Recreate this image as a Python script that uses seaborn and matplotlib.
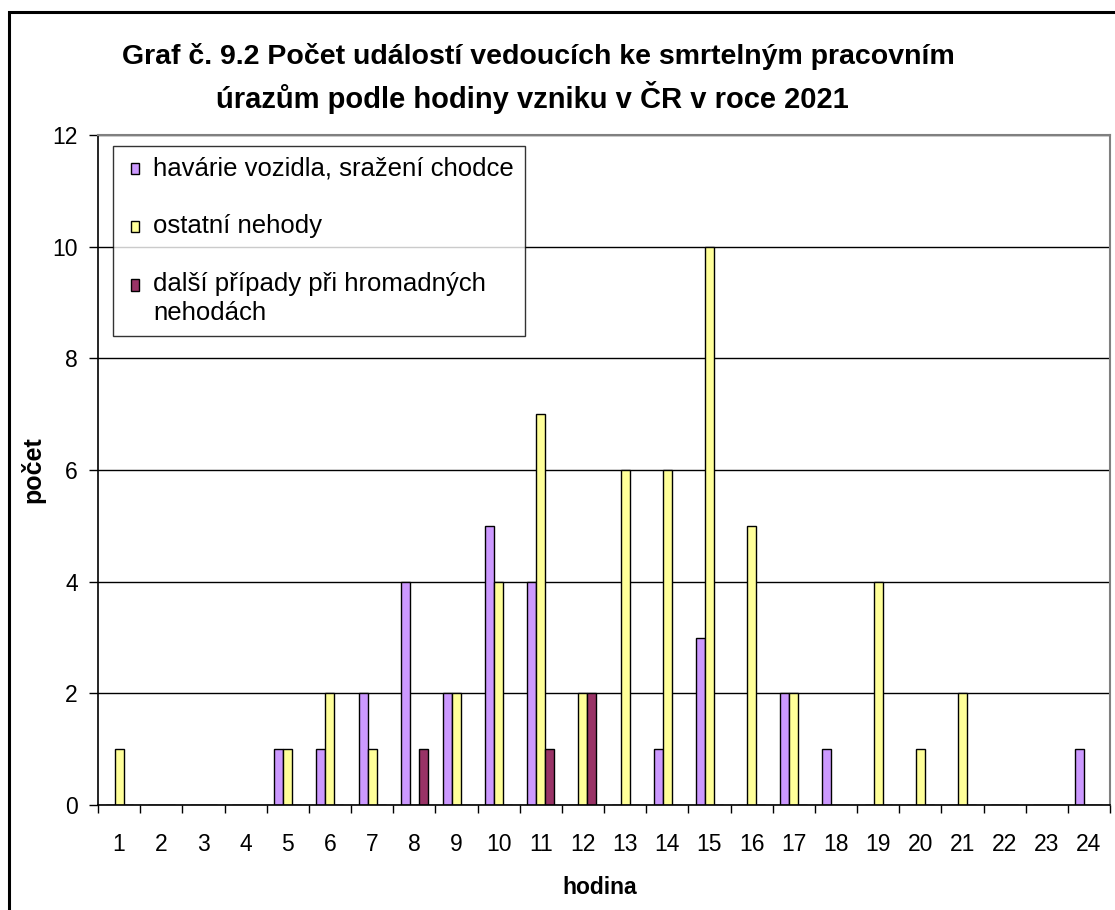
import numpy as np
import pandas as pd
import matplotlib
matplotlib.use("Agg")
import matplotlib.pyplot as plt
from matplotlib.patches import Patch, Rectangle
from matplotlib.ticker import FixedLocator
import seaborn as sns

# ========== DATA ==========
hours = list(range(1, 25))
havarie = [0, 0, 0, 0, 1, 1, 2, 4, 2, 5, 4, 0, 0, 1, 3, 0, 2, 1, 0, 0, 0, 0, 0, 1]
ostatni = [1, 0, 0, 0, 1, 2, 1, 0, 2, 4, 7, 2, 6, 6, 10, 5, 2, 0, 4, 1, 2, 0, 0, 0]
dalsi = [0, 0, 0, 0, 0, 0, 0, 1, 0, 0, 1, 2, 0, 0, 0, 0, 0, 0, 0, 0, 0, 0, 0, 0]

series_names = ["havárie vozidla, sražení chodce", "ostatní nehody",
                "další případy při hromadných\nnehodách"]
series_colors = ["#CC99FF", "#FFFF99", "#993366"]
y_ticks = [0, 2, 4, 6, 8, 10, 12]

title_line1 = "Graf č. 9.2 Počet událostí vedoucích ke smrtelným pracovním"
title_line2 = "úrazům podle hodiny vzniku v ČR v roce 2021"

# ========== LONG FORMAT ==========
df = pd.DataFrame({
    "hodina": hours * 3,
    "typ": [series_names[0]] * 24 + [series_names[1]] * 24 + [series_names[2]] * 24,
    "pocet": havarie + ostatni + dalsi,
})

# ========== STYLE ==========
sns.set_style("white")
plt.rcParams["font.family"] = ["Liberation Sans", "DejaVu Sans"]
plt.rcParams["text.color"] = "black"
plt.rcParams["axes.labelcolor"] = "black"
plt.rcParams["xtick.color"] = "black"
plt.rcParams["ytick.color"] = "black"

DPI = 100
fig = plt.figure(figsize=(11.15, 9.1), dpi=DPI)
ax = fig.add_axes([98 / 1115, 1 - 805 / 910, 1012 / 1115, 670 / 910])

sns.barplot(data=df, x="hodina", y="pocet", hue="typ", order=hours,
            hue_order=series_names, palette=series_colors, width=0.64,
            saturation=1, edgecolor="black", linewidth=1, legend=False, ax=ax)

ax.set_ylim(0, 12)
ax.set_xlim(-0.5, 23.5)
ax.set_yticks(y_ticks)
ax.yaxis.grid(True, color="black", linewidth=1)
ax.set_axisbelow(True)

# spines
for s in ["left", "bottom"]:
    ax.spines[s].set_color("black")
    ax.spines[s].set_linewidth(1.2)
for s in ["top", "right"]:
    ax.spines[s].set_color("#808080")
    ax.spines[s].set_linewidth(1.5)

# ticks
ax.tick_params(axis="y", which="major", length=6.5, width=1, color="black",
               direction="out", pad=8, labelsize=16.5, left=True)
ax.tick_params(axis="x", which="major", length=0, pad=20, labelsize=16.5)
ax.xaxis.set_minor_locator(FixedLocator(np.arange(-0.5, 24, 1)))
ax.tick_params(axis="x", which="minor", length=6, width=1, color="black",
               direction="out", bottom=True)

# axis labels
ax.set_xlabel("hodina", fontsize=16.5, fontweight="bold")
ax.set_ylabel("počet", fontsize=18, fontweight="bold")
ax.xaxis.set_label_coords(0.496, -0.106)
ax.yaxis.set_label_coords(-0.052, 0.5)

# title
fig.text(538 / 1115, 1 - 57 / 910, title_line1, ha="center", va="center",
         fontsize=20.5, fontweight="bold")
fig.text(532 / 1115, 1 - 97 / 910, title_line2, ha="center", va="center",
         fontsize=21, fontweight="bold")

# legend
LEG_FS = 18.5
handles = [Patch(facecolor=c, edgecolor="black", linewidth=1) for c in series_colors]
leg = ax.legend(handles, series_names, loc="upper left",
                bbox_to_anchor=(113 / 1115, 1 - 146 / 910),
                bbox_transform=fig.transFigure, borderaxespad=0,
                fontsize=LEG_FS, frameon=True, fancybox=False, shadow=False,
                handlelength=0.3, handleheight=0.3, handletextpad=0.85,
                labelspacing=1.3, borderpad=0.42)
leg.get_frame().set_edgecolor("black")
leg.get_frame().set_linewidth(1)
for t in leg.get_texts():
    t.set_linespacing(1.3)

# move markers into the padding and put the wrapped entry's marker on its first line
px2pt = 72 / DPI
fig.canvas.draw()
for h, t in zip(leg.legend_handles, leg.get_texts()):
    h.set_x(h.get_x() + 7 * px2pt)
    tb = t.get_window_extent()
    hb = h.get_window_extent()
    n_lines = t.get_text().count("\n") + 1
    line_h = tb.height / n_lines
    want = tb.y1 - line_h / 2
    have = (hb.y0 + hb.y1) / 2
    h.set_y(h.get_y() + (want - have) * px2pt)

# outer frame
fig.patches.append(Rectangle((9 / 1115, -0.1), 1.2, 1.1 - 12 / 910,
                             transform=fig.transFigure, fill=False,
                             edgecolor="black", linewidth=2.2))

plt.savefig("out.png", dpi=DPI)
plt.close()
